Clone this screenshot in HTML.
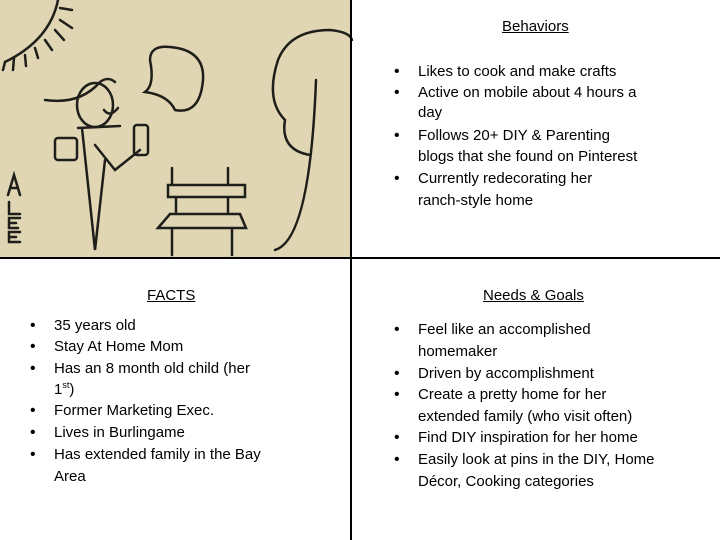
<!DOCTYPE html>
<html><head><meta charset="utf-8"><style>
body{margin:0;width:720px;height:540px;background:#fff;position:relative;overflow:hidden;font-family:"Liberation Sans",sans-serif;font-size:15px;color:#000}
.t{position:absolute;white-space:nowrap;line-height:18px}
.h{text-decoration:underline}
.b{position:absolute;font-size:16px;line-height:18px}
sup{font-size:9px;line-height:0;vertical-align:6px}
</style></head><body>
<svg style="position:absolute;left:0;top:0" width="720" height="540">
<rect x="0" y="0" width="352" height="257" fill="#e0d6b4"/>
<g fill="none" stroke="#1e1e1a" stroke-width="2.5" stroke-linecap="round">
<path d="M58 0 Q50 40 5 62"/>
<path d="M60 8 L72 10 M60 20 L72 28 M55 30 L64 40 M45 40 L52 50 M35 48 L38 58 M25 55 L26 66 M14 58 L13 70 M5 62 L3 70"/>
<ellipse cx="95" cy="105" rx="18" ry="22"/>
<path d="M45 100 Q80 105 100 82 Q108 76 115 82"/>
<path d="M104 110 Q110 118 118 108"/>
<path d="M78 128 L120 126 M82 128 L95 250 L105 160"/>
<path d="M95 145 L115 170 L140 150"/>
<rect x="134" y="125" width="14" height="30" rx="3"/>
<rect x="55" y="138" width="22" height="22" rx="3"/>
<path d="M150 60 Q150 45 170 47 Q205 50 203 80 Q200 115 175 110 Q168 95 145 92 Q155 85 150 60Z"/>
<path d="M172 168 L172 185 M228 168 L228 185 M168 185 L245 185 L245 197 L168 197Z M176 197 L176 212 M228 197 L228 212 M158 228 L170 214 L240 214 L246 228Z M172 228 L172 255 M232 228 L232 255"/>
<path d="M275 250 Q310 240 316 80 M285 120 Q265 100 278 60 Q290 30 330 30 Q350 32 352 40 M285 120 Q280 150 310 155"/>
<path d="M8 195 L14 175 L20 195 M10 188 L18 188 M9 202 L9 214 L20 214 M20 218 L9 218 L9 228 L18 228 M9 223 L16 223 M20 232 L9 232 L9 242 L20 242 M9 237 L16 237"/>
</g>
<line x1="351" y1="0" x2="351" y2="540" stroke="#000" stroke-width="2"/>
<line x1="0" y1="258" x2="720" y2="258" stroke="#000" stroke-width="2"/>
</svg>

<div class="t h" style="left:502px;top:18px">Behaviors</div>
<div class="b" style="left:394px;top:63px">•</div><div class="t" style="left:418px;top:63px">Likes to cook and make crafts</div>
<div class="b" style="left:394px;top:84px">•</div><div class="t" style="left:418px;top:84px">Active on mobile about 4 hours a</div>
<div class="t" style="left:418px;top:104px">day</div>
<div class="b" style="left:394px;top:127px">•</div><div class="t" style="left:418px;top:127px">Follows 20+ DIY &amp; Parenting</div>
<div class="t" style="left:418px;top:148px">blogs that she found on Pinterest</div>
<div class="b" style="left:394px;top:170px">•</div><div class="t" style="left:418px;top:170px">Currently redecorating her</div>
<div class="t" style="left:418px;top:192px">ranch-style home</div>

<div class="t h" style="left:147px;top:287px">FACTS</div>
<div class="b" style="left:30px;top:317px">•</div><div class="t" style="left:54px;top:317px">35 years old</div>
<div class="b" style="left:30px;top:338px">•</div><div class="t" style="left:54px;top:338px">Stay At Home Mom</div>
<div class="b" style="left:30px;top:360px">•</div><div class="t" style="left:54px;top:360px">Has an 8 month old child (her</div>
<div class="t" style="left:54px;top:381px">1<sup>st</sup>)</div>
<div class="b" style="left:30px;top:402px">•</div><div class="t" style="left:54px;top:402px">Former Marketing Exec.</div>
<div class="b" style="left:30px;top:424px">•</div><div class="t" style="left:54px;top:424px">Lives in Burlingame</div>
<div class="b" style="left:30px;top:446px">•</div><div class="t" style="left:54px;top:446px">Has extended family in the Bay</div>
<div class="t" style="left:54px;top:468px">Area</div>

<div class="t h" style="left:483px;top:287px">Needs &amp; Goals</div>
<div class="b" style="left:394px;top:321px">•</div><div class="t" style="left:418px;top:321px">Feel like an accomplished</div>
<div class="t" style="left:418px;top:343px">homemaker</div>
<div class="b" style="left:394px;top:365px">•</div><div class="t" style="left:418px;top:365px">Driven by accomplishment</div>
<div class="b" style="left:394px;top:386px">•</div><div class="t" style="left:418px;top:386px">Create a pretty home for her</div>
<div class="t" style="left:418px;top:408px">extended family (who visit often)</div>
<div class="b" style="left:394px;top:429px">•</div><div class="t" style="left:418px;top:429px">Find DIY inspiration for her home</div>
<div class="b" style="left:394px;top:451px">•</div><div class="t" style="left:418px;top:451px">Easily look at pins in the DIY, Home</div>
<div class="t" style="left:418px;top:473px">Décor, Cooking categories</div>
</body></html>
